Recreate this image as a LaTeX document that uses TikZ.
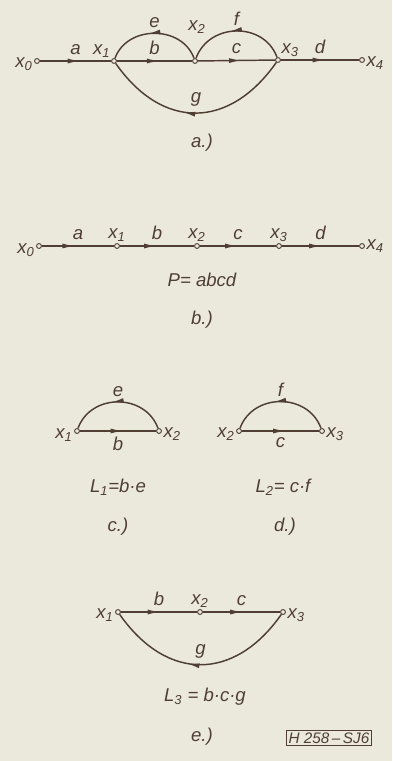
\documentclass[tikz,border=0pt]{standalone}
\usepackage{fontspec}
\setmainfont{Liberation Sans}
\usepackage{xcolor}
\usetikzlibrary{arrows.meta,decorations.markings}
\definecolor{paper}{RGB}{234,233,220}
\definecolor{ink}{RGB}{80,62,52}

\begin{document}
\begin{tikzpicture}[x=0.0265cm,y=-0.0265cm,
    every node/.style={text=ink,font=\fontsize{14}{16}\selectfont\itshape},
    pt/.style={circle,draw=ink,fill=paper,line width=0.7pt,inner sep=0pt,minimum size=1.3mm},
    br/.style={draw=ink,line width=1.1pt},
    flow/.style={postaction={decorate,decoration={markings,
      mark=at position #1 with {\arrow[ink]{Latex[length=3.4mm,width=1.3mm]}}}}},
    flow/.default=0.57,
    lab/.style={inner sep=1pt}]
  \fill[paper] (0,0) rectangle (392,761);

  % a)
  \node (x0a) [pt, label={[lab,yshift=-0.08cm]left:x\textsubscript{0}}] at (37,61) {};
  \node (x1a) [pt, label={[lab]above left:x\textsubscript{1}}] at (114,61) {};
  \node (x2a) [pt] at (195,61) {};
  \node (x3a) [pt, label={[lab]above right:x\textsubscript{3}}] at (278,60) {};
  \node (x4a) [pt, label={[lab,yshift=-0.08cm]right:x\textsubscript{4}}] at (362,60) {};
  \node (x2alab) at (197,27) {x\textsubscript{2}};
  \draw[br, flow] (x0a) -- node[above=1pt] {a} (x1a);
  \draw[br, flow] (x1a) -- node[above=1pt] {b} (x2a);
  \draw[br, flow] (x2a) -- node[above=1pt] {c} (x3a);
  \draw[br, flow] (x3a) -- node[above=1pt] {d} (x4a);
  \draw[br, flow] (x2a) to[out=110,in=70,looseness=1.15] node[above] {e} (x1a);
  \draw[br, flow] (x3a) to[out=110,in=70,looseness=1.2] node[above] {f} (x2a);
  \draw[br, flow] (x3a) to[out=-125,in=-55,looseness=1.3] node[above=1pt] {g} (x1a);
  \node (capa) at (202,143) {a.)};

  % b)
  \node (x0b) [pt, label={[lab,yshift=-0.1cm]left:x\textsubscript{0}}] at (39,246) {};
  \node (x1b) [pt, label={[lab]above:x\textsubscript{1}}] at (117,246) {};
  \node (x2b) [pt, label={[lab]above:x\textsubscript{2}}] at (197,246) {};
  \node (x3b) [pt, label={[lab]above:x\textsubscript{3}}] at (279,246) {};
  \node (x4b) [pt, label={[lab]right:x\textsubscript{4}}] at (362,246) {};
  \draw[br, flow=0.46] (x0b) -- node[above=1pt] {a} (x1b);
  \draw[br, flow=0.5] (x1b) -- node[above=1pt] {b} (x2b);
  \draw[br, flow=0.5] (x2b) -- node[above=1pt] {c} (x3b);
  \draw[br, flow=0.52] (x3b) -- node[above=1pt] {d} (x4b);
  \node (pb) at (202,280) {P= abcd};
  \node (capb) at (202,320) {b.)};

  % c)
  \node (x1c) [pt, label={[lab,yshift=-0.1cm]left:x\textsubscript{1}}] at (77,431) {};
  \node (x2c) [pt, label={[lab,yshift=-0.08cm]right:x\textsubscript{2}}] at (159,431) {};
  \draw[br, flow] (x1c) -- node[below=1pt] {b} (x2c);
  \draw[br, flow] (x2c) to[out=110,in=70,looseness=1.2] node[above] {e} (x1c);
  \node (l1) at (118,487) {L\textsubscript{1}=b·e};
  \node (capc) at (118,527) {c.)};

  % d)
  \node (x2d) [pt, label={[lab,yshift=-0.08cm]left:x\textsubscript{2}}] at (239,431) {};
  \node (x3d) [pt, label={[lab,yshift=-0.08cm]right:x\textsubscript{3}}] at (322,431) {};
  \draw[br, flow] (x2d) -- node[below=1pt] {c} (x3d);
  \draw[br, flow] (x3d) to[out=110,in=70,looseness=1.2] node[above] {f} (x2d);
  \node (l2) at (283,487) {L\textsubscript{2}= c·f};
  \node (capd) at (285,527) {d.)};

  % e)
  \node (x1e) [pt, label={[lab,yshift=-0.08cm]left:x\textsubscript{1}}] at (118,612) {};
  \node (x2e) [pt, label={[lab]above:x\textsubscript{2}}] at (200,612) {};
  \node (x3e) [pt, label={[lab,yshift=-0.08cm]right:x\textsubscript{3}}] at (283,612) {};
  \draw[br, flow=0.52] (x1e) -- node[above=1pt] {b} (x2e);
  \draw[br, flow=0.52] (x2e) -- node[above=1pt] {c} (x3e);
  \draw[br, flow] (x3e) to[out=-125,in=-55,looseness=1.3] node[above=1pt] {g} (x1e);
  \node (l3) at (205,697) {L\textsubscript{3} = b·c·g};
  \node (cape) at (202,737) {e.)};
  \node (tag) [draw=ink,line width=0.6pt,inner sep=1.5pt,font=\fontsize{11.5}{13}\selectfont\itshape] at (329,738) {H 258\,–\,SJ6};
\end{tikzpicture}
\end{document}
